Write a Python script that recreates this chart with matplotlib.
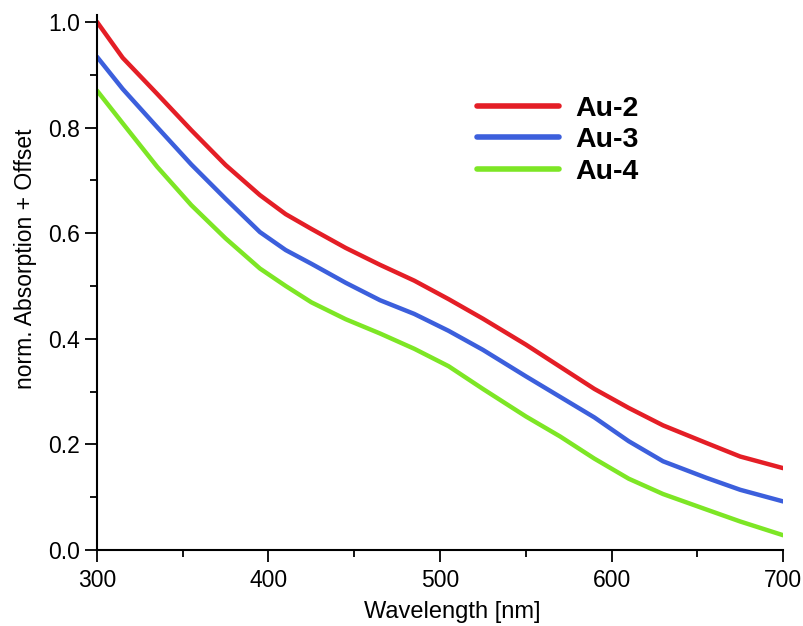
import matplotlib
matplotlib.use("Agg")
import matplotlib.pyplot as plt
from matplotlib.ticker import MultipleLocator

plt.rcParams["font.family"] = ["Liberation Sans", "DejaVu Sans"]

# ===== データ
wavelength = [300, 315, 335, 355, 375, 395, 410, 425, 445, 465, 485,
              505, 525, 550, 570, 590, 610, 630, 655, 675, 700]
au2 = [1.000, 0.932, 0.864, 0.795, 0.729, 0.672, 0.636, 0.608, 0.572, 0.540, 0.510,
       0.475, 0.438, 0.389, 0.347, 0.305, 0.269, 0.236, 0.203, 0.177, 0.155]
au3 = [0.934, 0.873, 0.801, 0.730, 0.665, 0.602, 0.568, 0.542, 0.506, 0.473, 0.447,
       0.415, 0.379, 0.329, 0.290, 0.251, 0.206, 0.168, 0.137, 0.114, 0.092]
au4 = [0.870, 0.808, 0.726, 0.653, 0.590, 0.533, 0.500, 0.469, 0.437, 0.410, 0.381,
       0.348, 0.305, 0.253, 0.215, 0.173, 0.135, 0.106, 0.077, 0.054, 0.028]

labels = ["Au-2", "Au-3", "Au-4"]
colors = ["#e41e26", "#3c5fdc", "#7de625"]


def main():
    fig = plt.figure(figsize=(8.04, 6.26), dpi=100)
    ax = fig.add_axes([0.1206, 0.1214, 0.8534, 0.8546])

    for series, label, color in zip([au2, au3, au4], labels, colors):
        ax.plot(wavelength, series, color=color, lw=3.2, label=label,
                solid_capstyle="round", solid_joinstyle="round")

    ax.set_xlim(300, 700)
    ax.set_ylim(0, 1.013)
    ax.xaxis.set_major_locator(MultipleLocator(100))
    ax.xaxis.set_minor_locator(MultipleLocator(50))
    ax.yaxis.set_major_locator(MultipleLocator(0.2))
    ax.yaxis.set_minor_locator(MultipleLocator(0.1))
    ax.yaxis.set_major_formatter(plt.FormatStrFormatter("%.1f"))

    for side in ["top", "right"]:
        ax.spines[side].set_visible(False)
    for side in ["left", "bottom"]:
        ax.spines[side].set_linewidth(1.5)

    ax.tick_params(which="major", direction="out", length=8.5, width=1.3,
                   labelsize=16.5)
    ax.tick_params(which="minor", direction="out", length=5, width=1.3)
    ax.tick_params(axis="x", which="major", pad=5.5)
    ax.tick_params(axis="y", which="major", pad=3.5)

    ax.set_xlabel("Wavelength [nm]", fontsize=17, labelpad=8)
    ax.xaxis.set_label_coords(0.5175, -0.095)
    ax.set_ylabel("norm. Absorption + Offset", fontsize=16.5)
    ax.yaxis.set_label_coords(-0.087, 0.545)

    leg = ax.legend(loc="upper left", bbox_to_anchor=(0.593, 0.847),
                    bbox_transform=fig.transFigure, frameon=False,
                    prop={"weight": "bold", "size": 20.5},
                    handlelength=2.9, handletextpad=0.56, labelspacing=0.19,
                    borderpad=0, borderaxespad=0)
    for line in leg.get_lines():
        line.set_linewidth(4)

    fig.savefig("out.png", dpi=100)


if __name__ == "__main__":
    main()
